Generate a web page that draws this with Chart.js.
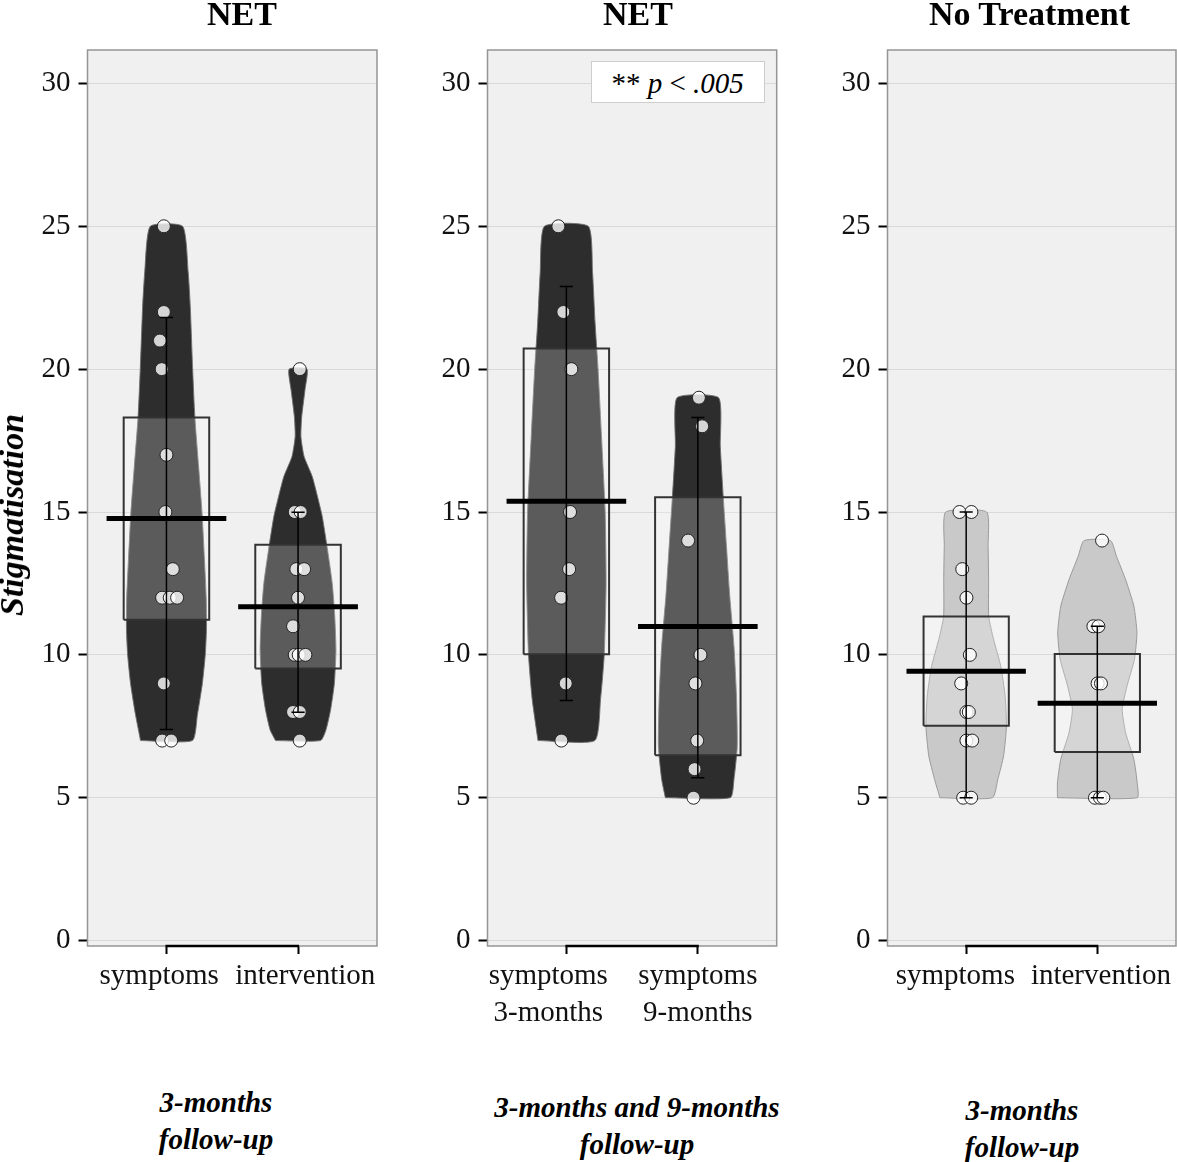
<!DOCTYPE html>
<html>
<head>
<meta charset="utf-8">
<script src="https://cdn.jsdelivr.net/npm/chart.js@4.4.1/dist/chart.umd.min.js"></script>
<style>
  body { margin: 0; background: #fff; }
  #wrap { position: relative; width: 1177px; height: 1162px; overflow: hidden;
          font-family: 'Liberation Serif', 'DejaVu Serif', serif; color: #000; }
  canvas { position: absolute; top: 0; }
  .titulo { position: absolute; top: -3.5px; font-size: 34px; line-height: 34px; font-weight: bold;
            transform: translateX(-50%); white-space: nowrap; }
  .ylab { position: absolute; left: 11.5px; top: 515px; font-size: 34px; line-height: 34px;
          font-weight: bold; font-style: italic; white-space: nowrap;
          transform: translate(-50%, -50%) rotate(-90deg); }
  .pie { position: absolute; font-size: 29px; line-height: 37px; font-weight: bold; font-style: italic;
         text-align: center; transform: translateX(-50%); white-space: nowrap; }
  .pval { position: absolute; left: 590.7px; top: 60.7px; width: 172px; height: 40px;
          background: #fff; border: 1px solid #cdcdcd; font-size: 29px; line-height: 42px;
          text-align: center; white-space: nowrap; }
</style>
</head>
<body>
<div id="wrap">
  <canvas id="g1" width="380" height="1060" style="left:0px"></canvas>
  <canvas id="g2" width="380" height="1060" style="left:400px"></canvas>
  <canvas id="g3" width="377" height="1060" style="left:800px"></canvas>

  <div class="titulo" style="left:242px">NET</div>
  <div class="titulo" style="left:638px">NET</div>
  <div class="titulo" style="left:1029.5px">No Treatment</div>
  <div class="ylab">Stigmatisation</div>
  <div class="pval">** <i>p</i> &lt; <i>.005</i></div>

  <div class="pie" style="left:216px; top:1084px">3-months<br>follow-up</div>
  <div class="pie" style="left:637px; top:1089px">3-months and 9-months<br>follow-up</div>
  <div class="pie" style="left:1022px; top:1092px">3-months<br>follow-up</div>
</div>

<script>
// ---- datos ----
const yTicks = [0, 5, 10, 15, 20, 25, 30];

// etiquetas del eje x (los espacios corren un poco la etiqueta, como en el original)
const etiquetas1 = ['symptoms  ', '  intervention'];
const etiquetas2 = [['symptoms     ', '3-months     '], ['symptoms', '9-months']];
const etiquetas3 = ['symptoms   ', ' intervention'];

// panel 1: NET, seguimiento 3 meses
const medias1 = [14.77, 11.68];
const cajaBaja1 = [11.23, 9.52];
const cajaAlta1 = [18.31, 13.85];
const barraBaja1 = [7.39, 7.99];
const barraAlta1 = [21.81, 14.99];
const puntos1Sintomas = [25, 22, 21, 20, 17, 15, 13, 12, 12, 12, 9, 7, 7];
const jitter1Sintomas = [-0.02, -0.02, -0.05, -0.036, 0, -0.008, 0.048, -0.033, 0.025, 0.081, -0.02, -0.033, 0.036];
const puntos1Interv = [20, 15, 15, 13, 13, 12, 11, 10, 10, 10, 8, 8, 7];
const jitter1Interv = [0.013, -0.025, 0.02, -0.013, 0.046, 0, -0.038, -0.025, 0.005, 0.056, -0.038, 0.013, 0.013];
const violinY1Sintomas = [7, 7.9, 9, 10, 10.9, 12, 13.4, 15, 16.55, 18.3, 20, 22.2, 23.4, 25];
const violinW1Sintomas = [0.197, 0.235, 0.273, 0.295, 0.304, 0.302, 0.288, 0.27, 0.245, 0.216, 0.199, 0.181, 0.165, 0.123];
const violinY1Interv = [7, 7.37, 8.07, 9, 10.17, 11.34, 12.5, 13.68, 14.84, 15.54, 16.24, 16.94, 17.64, 18.34, 19.28, 20];
const violinW1Interv = [0.171, 0.212, 0.247, 0.276, 0.288, 0.279, 0.26, 0.224, 0.184, 0.148, 0.108, 0.046, 0.022, 0.028, 0.053, 0.068];

// panel 2: NET, síntomas 3 y 9 meses
const medias2 = [15.38, 10.99];
const cajaBaja2 = [10.02, 6.49];
const cajaAlta2 = [20.72, 15.52];
const barraBaja2 = [8.40, 5.70];
const barraAlta2 = [22.89, 18.31];
const puntos2Tres = [25, 22, 20, 15, 13, 12, 9, 7];
const jitter2Tres = [-0.061, -0.023, 0.038, 0.028, 0.021, -0.04, -0.005, -0.038];
const puntos2Nueve = [19, 18, 14, 10, 9, 7, 6, 5];
const jitter2Nueve = [0.008, 0.033, -0.074, 0.02, -0.018, -0.005, -0.025, -0.033];
const violinY2Tres = [7, 8.44, 10, 12.5, 15, 17.76, 20, 21.65, 23.4, 25];
const violinW2Tres = [0.216, 0.26, 0.288, 0.302, 0.295, 0.266, 0.241, 0.218, 0.199, 0.167];
const violinY2Nueve = [5, 5.64, 6.8, 8.55, 10.3, 12.05, 13.8, 15.55, 17.3, 19];
const violinW2Nueve = [0.247, 0.275, 0.3, 0.294, 0.275, 0.243, 0.218, 0.193, 0.171, 0.158];

// panel 3: sin tratamiento
const medias3 = [9.43, 8.31];
const cajaBaja3 = [7.52, 6.60];
const cajaAlta3 = [11.34, 10.03];
const barraBaja3 = [5, 5];
const barraAlta3 = [15, 11];
const puntos3Sintomas = [15, 15, 13, 12, 10, 9, 8, 8, 7, 7, 5, 5];
const jitter3Sintomas = [-0.051, 0.04, -0.03, 0.002, 0.028, -0.038, 0.002, 0.02, 0.002, 0.046, -0.023, 0.038];
const puntos3Interv = [14, 11, 11, 9, 9, 5, 5, 5];
const jitter3Interv = [0.036, -0.03, 0.008, 0.002, 0.028, -0.018, 0.02, 0.046];
const violinY3Sintomas = [5, 5.64, 6.46, 7.5, 8.55, 9.6, 10.54, 11.34, 12.63, 13.8, 15];
const violinW3Sintomas = [0.2, 0.241, 0.285, 0.307, 0.297, 0.264, 0.209, 0.172, 0.171, 0.167, 0.156];
const violinY3Interv = [5, 5.52, 6.34, 7.27, 8.09, 8.9, 9.84, 10.77, 11.7, 12.63, 13.45, 14];
const violinW3Interv = [0.304, 0.304, 0.279, 0.216, 0.19, 0.226, 0.283, 0.302, 0.279, 0.216, 0.146, 0.101];

const FUENTE = "'Liberation Serif', 'DejaVu Serif', serif";
const ANCHO_CAJA = 0.325;
const ANCHO_MEDIA = 0.455;
const ANCHO_TAPA = 0.05;

// contorno del violín: sube por la izquierda y baja por la derecha
function contornoViolin(centro, niveles, anchos) {
  const izq = niveles.map((y, i) => ({ x: centro - anchos[i], y }));
  const der = niveles.map((y, i) => ({ x: centro + anchos[i], y })).reverse();
  return izq.concat(der, [izq[0]]);
}

function contornoCaja(centro, baja, alta) {
  return [
    { x: centro - ANCHO_CAJA, y: baja }, { x: centro - ANCHO_CAJA, y: alta },
    { x: centro + ANCHO_CAJA, y: alta }, { x: centro + ANCHO_CAJA, y: baja },
    { x: centro - ANCHO_CAJA, y: baja }
  ];
}

function barraError(centro, baja, alta) {
  return [
    { x: centro - ANCHO_TAPA, y: alta }, { x: centro + ANCHO_TAPA, y: alta }, { x: centro, y: alta },
    { x: centro, y: baja }, { x: centro - ANCHO_TAPA, y: baja }, { x: centro + ANCHO_TAPA, y: baja }
  ];
}

// fondo gris, marco y tramo negro del eje x
const decoPanel = {
  id: 'decoPanel',
  beforeDraw(chart) {
    const { ctx, chartArea: a } = chart;
    ctx.save();
    ctx.fillStyle = '#f0f0f0';
    ctx.fillRect(a.left, a.top, a.width, a.height);
    ctx.restore();
  },
  afterDraw(chart) {
    const { ctx, chartArea: a } = chart;
    const x = chart.scales.x;
    ctx.save();
    ctx.strokeStyle = '#959595';
    ctx.lineWidth = 1.5;
    ctx.strokeRect(a.left, a.top, a.width, a.height);
    ctx.strokeStyle = '#000';
    ctx.lineWidth = 2.5;
    ctx.beginPath();
    ctx.moveTo(x.getPixelForValue(1) - 1, a.bottom);
    ctx.lineTo(x.getPixelForValue(2) + 1, a.bottom);
    ctx.stroke();
    ctx.restore();
  }
};

function sinRelleno(s) {
  s.paddingLeft = 0; s.paddingRight = 0; s.paddingTop = 0; s.paddingBottom = 0;
}

function crearPanel(id, grupos, etiquetas, colorViolin, bordeViolin, margenDer) {
  const datasets = [];
  grupos.forEach((g, i) => {
    const c = i + 1;
    datasets.push({
      data: contornoViolin(c, g.nivY, g.anchos), showLine: true, fill: 'shape',
      backgroundColor: colorViolin, borderColor: bordeViolin, borderWidth: 1,
      pointRadius: 0, tension: 0.18, order: 5
    });
    datasets.push({
      data: contornoCaja(c, g.baja, g.alta), showLine: true, fill: 'shape',
      backgroundColor: 'rgba(255,255,255,0.22)', borderColor: '#333', borderWidth: 2,
      pointRadius: 0, tension: 0, order: 4
    });
    datasets.push({
      data: g.puntos.map((v, k) => ({ x: c + g.jitter[k], y: v })),
      pointRadius: 6.5, backgroundColor: 'rgba(255,255,255,0.8)',
      borderColor: '#222', borderWidth: 1, order: 3
    });
    datasets.push({
      data: barraError(c, g.eBaja, g.eAlta), showLine: true, fill: false,
      borderColor: '#000', borderWidth: 1.5, pointRadius: 0, order: 2
    });
    datasets.push({
      data: [{ x: c - ANCHO_MEDIA, y: g.media }, { x: c + ANCHO_MEDIA, y: g.media }],
      showLine: true, fill: false, borderColor: '#000', borderWidth: 5, pointRadius: 0, order: 1
    });
  });

  return new Chart(document.getElementById(id), {
    type: 'scatter',
    data: { datasets },
    options: {
      responsive: false,
      animation: false,
      events: [],
      layout: { autoPadding: false, padding: { top: 50, right: margenDer, left: 0, bottom: 0 } },
      plugins: { legend: { display: false }, tooltip: { enabled: false } },
      scales: {
        x: {
          type: 'linear', min: 0.4, max: 2.6,
          afterBuildTicks: s => { s.ticks = [{ value: 1 }, { value: 2 }]; },
          afterFit: s => { s.height = 114; sinRelleno(s); },
          border: { display: false },
          grid: { drawOnChartArea: false, drawTicks: true, tickLength: 8, tickColor: '#000', tickWidth: 2 },
          ticks: {
            autoSkip: false, maxRotation: 0, padding: 4, color: '#111',
            font: { family: FUENTE, size: 29, lineHeight: 1.27 },
            callback: (v) => etiquetas[Math.round(v) - 1]
          }
        },
        y: {
          min: -0.19, max: 31.17,
          afterBuildTicks: s => { s.ticks = yTicks.map(v => ({ value: v })); },
          afterFit: s => { s.width = 87.5; sinRelleno(s); },
          border: { display: false },
          grid: { color: '#d9d9d9', lineWidth: 1, tickLength: 9, tickColor: '#000', tickWidth: 2 },
          ticks: { padding: 8, color: '#111', font: { family: FUENTE, size: 29 } }
        }
      }
    },
    plugins: [decoPanel]
  });
}

crearPanel('g1', [
  { nivY: violinY1Sintomas, anchos: violinW1Sintomas, baja: cajaBaja1[0], alta: cajaAlta1[0], eBaja: barraBaja1[0], eAlta: barraAlta1[0], media: medias1[0], puntos: puntos1Sintomas, jitter: jitter1Sintomas },
  { nivY: violinY1Interv, anchos: violinW1Interv, baja: cajaBaja1[1], alta: cajaAlta1[1], eBaja: barraBaja1[1], eAlta: barraAlta1[1], media: medias1[1], puntos: puntos1Interv, jitter: jitter1Interv }
], etiquetas1, '#2d2d2d', 'rgba(110,110,110,0.9)', 3);

crearPanel('g2', [
  { nivY: violinY2Tres, anchos: violinW2Tres, baja: cajaBaja2[0], alta: cajaAlta2[0], eBaja: barraBaja2[0], eAlta: barraAlta2[0], media: medias2[0], puntos: puntos2Tres, jitter: jitter2Tres },
  { nivY: violinY2Nueve, anchos: violinW2Nueve, baja: cajaBaja2[1], alta: cajaAlta2[1], eBaja: barraBaja2[1], eAlta: barraAlta2[1], media: medias2[1], puntos: puntos2Nueve, jitter: jitter2Nueve }
], etiquetas2, '#2d2d2d', 'rgba(110,110,110,0.9)', 3.3);

crearPanel('g3', [
  { nivY: violinY3Sintomas, anchos: violinW3Sintomas, baja: cajaBaja3[0], alta: cajaAlta3[0], eBaja: barraBaja3[0], eAlta: barraAlta3[0], media: medias3[0], puntos: puntos3Sintomas, jitter: jitter3Sintomas },
  { nivY: violinY3Interv, anchos: violinW3Interv, baja: cajaBaja3[1], alta: cajaAlta3[1], eBaja: barraBaja3[1], eAlta: barraAlta3[1], media: medias3[1], puntos: puntos3Interv, jitter: jitter3Interv }
], etiquetas3, '#c9c9c9', '#9a9a9a', 1);
</script>
</body>
</html>
